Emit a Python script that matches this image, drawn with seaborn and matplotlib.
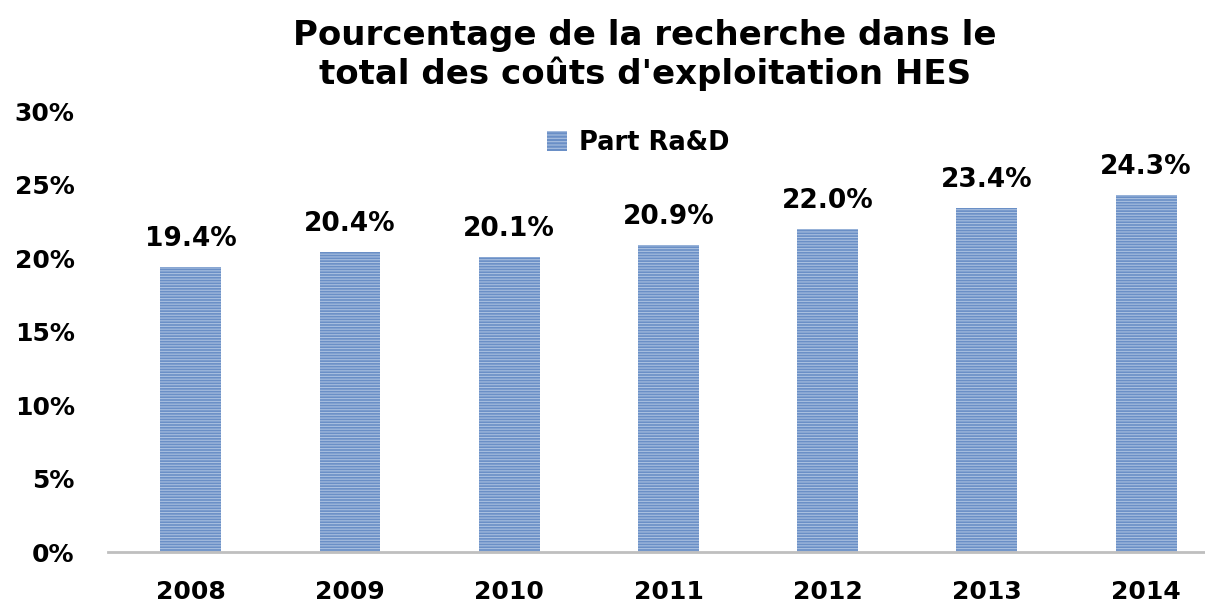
import numpy as np
import pandas as pd
import seaborn as sns
import matplotlib.pyplot as plt
from matplotlib.patches import Patch

years = ['2008', '2009', '2010', '2011', '2012', '2013', '2014']
part_rad = [19.4, 20.4, 20.1, 20.9, 22.0, 23.4, 24.3]
y_ticks = [0, 5, 10, 15, 20, 25, 30]

df = pd.DataFrame({'year': years, 'part': part_rad})

sns.set_style('white')
plt.rcParams['font.family'] = ['DejaVu Sans']
plt.rcParams['text.color'] = 'black'
plt.rcParams['xtick.color'] = 'black'
plt.rcParams['ytick.color'] = 'black'
plt.rcParams['hatch.color'] = 'white'
plt.rcParams['hatch.linewidth'] = 0.8

fig = plt.figure(figsize=(12.05, 6.06), dpi=100)
ax = fig.add_axes([108 / 1205, 1 - 552 / 606, (1205 - 108) / 1205, (552 - 111) / 606])

sns.barplot(data=df, x='year', y='part', color='#6A8FC6', width=0.383,
            saturation=1, ax=ax)
for bar in ax.patches:
    bar.set_hatch('------')
    bar.set_edgecolor('#A9C0E0')
    bar.set_linewidth(0)

# value labels above each bar
for i, v in enumerate(part_rad):
    ax.text(i, v + 1.0, f'{v:.1f}%', ha='center', va='bottom',
            fontsize=19, fontweight='bold', color='black')

ax.set_ylim(0, 30)
ax.set_xlim(-0.52, 6.37)
ax.set_yticks(y_ticks)
ax.set_yticklabels([f'{t}%' for t in y_ticks], fontsize=18, fontweight='bold')
ax.tick_params(axis='y', length=0, pad=24)
ax.tick_params(axis='x', length=0, pad=20, labelsize=18)
for lbl in ax.get_xticklabels():
    lbl.set_fontweight('bold')
ax.set_xlabel('')
ax.set_ylabel('')
for s in ['top', 'right', 'left']:
    ax.spines[s].set_visible(False)
ax.spines['bottom'].set_color('#BFBFBF')
ax.spines['bottom'].set_linewidth(2)

handle = Patch(facecolor='#6A8FC6', edgecolor='#A9C0E0', hatch='-----', linewidth=0)
ax.legend([handle], ['Part Ra&D'], loc='center', bbox_to_anchor=((638 - 108) / 1097, (552 - 143) / 441),
          frameon=False, prop={'size': 18.5, 'weight': 'bold'},
          handlelength=0.8, handleheight=0.8, handletextpad=0.45)

fig.text(645 / 1205, 1 - 55 / 606, "Pourcentage de la recherche dans le\ntotal des coûts d'exploitation HES",
         ha='center', va='center', fontsize=24.5, fontweight='bold', linespacing=1.15)

fig.savefig('out.png', dpi=100)
